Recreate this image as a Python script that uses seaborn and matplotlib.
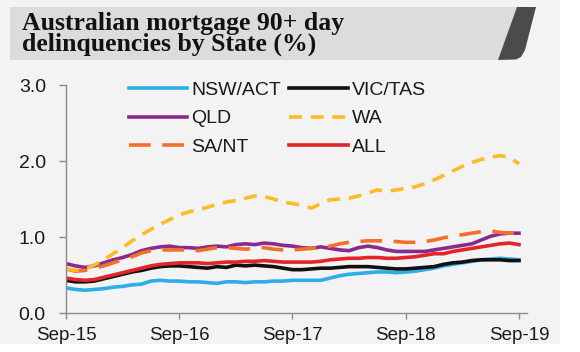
import numpy as np
import pandas as pd
import matplotlib
matplotlib.use("Agg")
import matplotlib.pyplot as plt
from matplotlib.patches import Polygon, Rectangle
import seaborn as sns

# ---------------- data ----------------
tick_labels = ["Sep-15", "Sep-16", "Sep-17", "Sep-18", "Sep-19"]

nsw_act = [0.33, 0.31, 0.30, 0.31, 0.32, 0.34, 0.35, 0.37, 0.38, 0.42, 0.43, 0.42,
           0.42, 0.41, 0.41, 0.40, 0.39, 0.41, 0.41, 0.40, 0.41, 0.41, 0.42, 0.42,
           0.43, 0.43, 0.43, 0.43, 0.46, 0.49, 0.51, 0.52, 0.53, 0.54, 0.54, 0.53,
           0.54, 0.55, 0.57, 0.59, 0.62, 0.64, 0.66, 0.68, 0.70, 0.71, 0.72, 0.71,
           0.70]
vic_tas = [0.43, 0.41, 0.41, 0.42, 0.45, 0.48, 0.51, 0.54, 0.56, 0.59, 0.61, 0.62,
           0.62, 0.61, 0.60, 0.59, 0.61, 0.60, 0.63, 0.62, 0.63, 0.62, 0.61, 0.59,
           0.57, 0.57, 0.58, 0.59, 0.59, 0.60, 0.61, 0.61, 0.61, 0.60, 0.59, 0.58,
           0.58, 0.59, 0.60, 0.61, 0.64, 0.66, 0.67, 0.69, 0.70, 0.70, 0.70, 0.69,
           0.69]
qld = [0.65, 0.62, 0.60, 0.62, 0.66, 0.70, 0.73, 0.77, 0.82, 0.85, 0.87, 0.88,
       0.86, 0.86, 0.85, 0.87, 0.88, 0.87, 0.90, 0.91, 0.90, 0.92, 0.91, 0.89,
       0.88, 0.86, 0.85, 0.87, 0.85, 0.83, 0.82, 0.86, 0.88, 0.86, 0.83, 0.81,
       0.81, 0.81, 0.81, 0.83, 0.85, 0.87, 0.89, 0.91, 0.96, 1.01, 1.04, 1.05,
       1.05]
wa = [0.58, 0.56, 0.58, 0.63, 0.70, 0.78, 0.86, 0.95, 1.03, 1.10, 1.17, 1.23,
      1.29, 1.33, 1.36, 1.39, 1.43, 1.46, 1.48, 1.51, 1.54, 1.53, 1.50, 1.46,
      1.44, 1.42, 1.38, 1.44, 1.49, 1.50, 1.51, 1.54, 1.58, 1.62, 1.60, 1.62,
      1.64, 1.66, 1.70, 1.75, 1.81, 1.87, 1.93, 1.98, 2.02, 2.05, 2.07, 2.05,
      1.96]
sa_nt = [0.58, 0.55, 0.56, 0.59, 0.62, 0.66, 0.70, 0.74, 0.79, 0.82, 0.83, 0.83,
         0.83, 0.83, 0.82, 0.84, 0.86, 0.86, 0.85, 0.84, 0.85, 0.86, 0.84, 0.83,
         0.83, 0.84, 0.85, 0.86, 0.88, 0.91, 0.93, 0.94, 0.95, 0.95, 0.95, 0.94,
         0.93, 0.93, 0.94, 0.96, 0.99, 1.01, 1.03, 1.05, 1.07, 1.08, 1.06, 1.05,
         1.05]
all_states = [0.46, 0.44, 0.43, 0.44, 0.47, 0.50, 0.53, 0.56, 0.59, 0.62, 0.64, 0.65,
              0.66, 0.66, 0.66, 0.65, 0.66, 0.67, 0.67, 0.68, 0.68, 0.69, 0.68, 0.67,
              0.67, 0.67, 0.67, 0.68, 0.70, 0.71, 0.72, 0.72, 0.73, 0.73, 0.72, 0.72,
              0.73, 0.74, 0.76, 0.78, 0.78, 0.81, 0.83, 0.85, 0.87, 0.89, 0.91, 0.92,
              0.90]

series = {"NSW/ACT": nsw_act, "VIC/TAS": vic_tas, "QLD": qld,
          "WA": wa, "SA/NT": sa_nt, "ALL": all_states}
draw_order = ["NSW/ACT", "VIC/TAS", "ALL", "QLD", "SA/NT", "WA"]
legend_order = ["NSW/ACT", "QLD", "SA/NT", "VIC/TAS", "WA", "ALL"]

colors = {"NSW/ACT": "#2eaee6", "VIC/TAS": "#111111", "QLD": "#8a2a8c",
          "WA": "#fdbb27", "SA/NT": "#f36f2a", "ALL": "#e2242b"}
dashes = {"NSW/ACT": "", "VIC/TAS": "", "QLD": "", "ALL": "",
          "WA": (3.6, 2.4), "SA/NT": (6.0, 3.2)}

rows = []
for name in draw_order:
    for i, v in enumerate(series[name]):
        rows.append({"idx": i, "value": v, "State": name})
df = pd.DataFrame(rows)

# ---------------- figure ----------------
W, H = 580, 352
fig = plt.figure(figsize=(W / 100, H / 100), dpi=100, facecolor="white")

def fx(x):
    return x / W

def fy(y):
    return 1 - y / H

panel_col = "#f3f3f3"
fig.patches.append(Rectangle((0, fy(344)), fx(560), 1 - fy(344),
                             transform=fig.transFigure, facecolor=panel_col,
                             edgecolor="none", zorder=-3))
band = Polygon([(fx(10), fy(7)), (fx(518), fy(7)), (fx(499), fy(60)), (fx(10), fy(60))],
               closed=True, transform=fig.transFigure, facecolor="#dcdcda",
               edgecolor="none", zorder=-2)
fig.patches.append(band)
stripe = Polygon([(fx(517), fy(7)), (fx(536), fy(7)), (fx(525), fy(50)),
                  (fx(521), fy(57)), (fx(516), fy(59.5)), (fx(498), fy(60))],
                 closed=True, transform=fig.transFigure, facecolor="#4b4b4d",
                 edgecolor="none", zorder=-2)
fig.patches.append(stripe)

fig.text(fx(22), fy(30), "Australian mortgage 90+ day", fontfamily="Liberation Serif",
         fontweight="bold", fontsize=18.5, color="#111111", va="baseline", ha="left")
fig.text(fx(22), fy(51), "delinquencies by State (%)", fontfamily="Liberation Serif",
         fontweight="bold", fontsize=18.5, color="#111111", va="baseline", ha="left")

ax = fig.add_axes([fx(66), fy(313), fx(527) - fx(66), fy(85) - fy(313)])
ax.set_facecolor(panel_col)
ax.set_zorder(1)

sns.lineplot(data=df, x="idx", y="value", hue="State", style="State",
             palette=colors, dashes=dashes, hue_order=draw_order, style_order=draw_order,
             linewidth=2.6, legend=False, ax=ax, sort=False)

ax.set_xlim(0, 48.85)
ax.set_ylim(0, 3.0)
ax.set_xticks([0, 12, 24, 36, 48])
ax.set_xticklabels(tick_labels)
ax.set_yticks([0, 1, 2, 3])
ax.set_yticklabels(["0.0", "1.0", "2.0", "3.0"])
ax.set_xlabel("")
ax.set_ylabel("")

for s in ["top", "right"]:
    ax.spines[s].set_visible(False)
for s in ["left", "bottom"]:
    ax.spines[s].set_color("#8c8c8c")
    ax.spines[s].set_linewidth(1.0)

ax.tick_params(axis="x", length=4, width=1, color="#8c8c8c", pad=6,
               labelsize=13.5, labelcolor="#1a1a1a")
ax.tick_params(axis="y", length=5, width=1, color="#8c8c8c", pad=9.5,
               labelsize=14, labelcolor="#1a1a1a")
for lab in ax.get_xticklabels() + ax.get_yticklabels():
    lab.set_fontfamily("Liberation Sans")

lines = {name: ln for name, ln in zip(draw_order, ax.get_lines())}
leg = ax.legend([lines[n] for n in legend_order], legend_order, ncol=2,
                frameon=False, loc="upper left", bbox_to_anchor=(0.098, 1.092),
                handlelength=3.0, handletextpad=0.2, columnspacing=0.45,
                labelspacing=0.55, prop={"family": "Liberation Sans", "size": 14})
for t in leg.get_texts():
    t.set_color("#1a1a1a")

fig.savefig("out.png", dpi=100, facecolor=fig.get_facecolor())
